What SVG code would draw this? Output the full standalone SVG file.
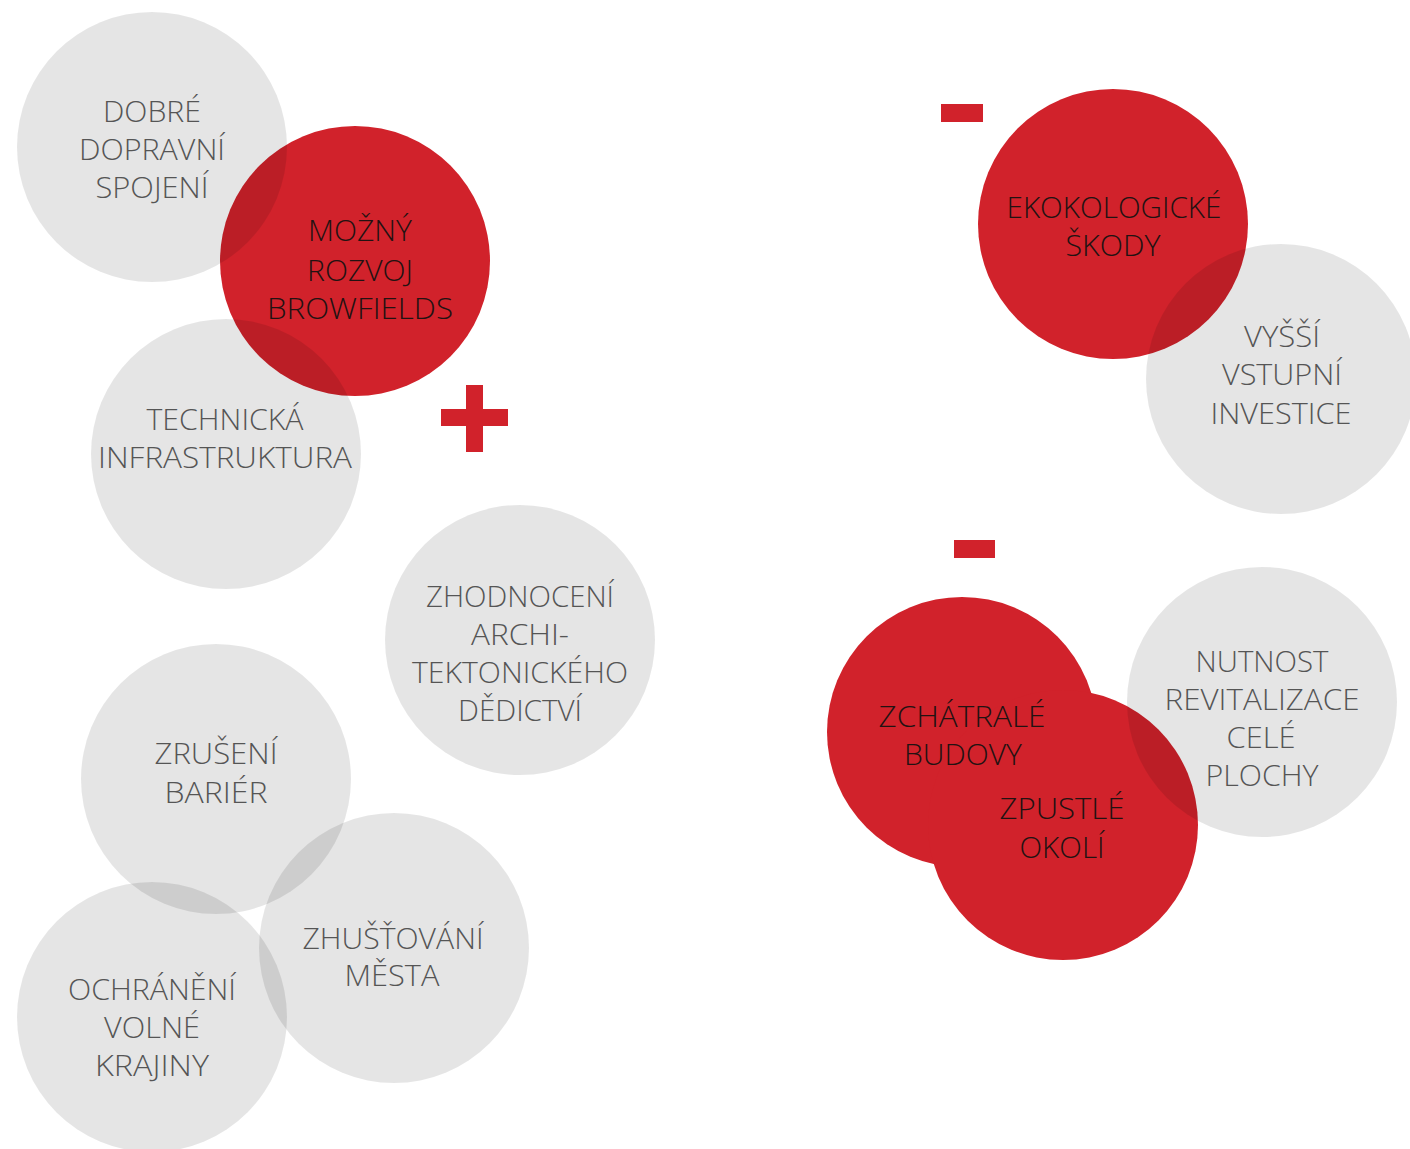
<svg xmlns="http://www.w3.org/2000/svg" width="1410" height="1149" viewBox="0 0 1410 1149">
<style>
.bg{fill:#ffffff}
.red{fill:#d1222b}
.gray{fill:#000000;fill-opacity:0.1}
text{font-family:"Open Sans","Liberation Sans",sans-serif;font-weight:300;font-size:30px;text-anchor:middle}
.tg{fill:#555555}
.tr{fill:#221212}
.sign{fill:#d1222b}
</style>
<rect class="bg" x="0" y="0" width="1410" height="1149"/>
<g id="connectors"></g>
<g id="node-mozny">
<circle class="red" cx="355" cy="261" r="135"/>
<text class="tr" x="360" y="241" textLength="104" lengthAdjust="spacingAndGlyphs">MOŽNÝ</text>
<text class="tr" x="360" y="281" textLength="106" lengthAdjust="spacingAndGlyphs">ROZVOJ</text>
<text class="tr" x="360" y="319" textLength="186" lengthAdjust="spacingAndGlyphs">BROWFIELDS</text>
</g>
<g id="node-ekologicke">
<circle class="red" cx="1113" cy="224" r="135"/>
<text class="tr" x="1114" y="218" textLength="215" lengthAdjust="spacingAndGlyphs">EKOKOLOGICKÉ</text>
<text class="tr" x="1113" y="256" textLength="95" lengthAdjust="spacingAndGlyphs">ŠKODY</text>
</g>
<g id="node-zchatrale">
<circle class="red" cx="962" cy="732" r="135"/>
</g>
<g id="node-zpustle">
<circle class="red" cx="1063" cy="825" r="135"/>
<text class="tr" x="1062" y="819" textLength="125" lengthAdjust="spacingAndGlyphs">ZPUSTLÉ</text>
<text class="tr" x="1062" y="858" textLength="85" lengthAdjust="spacingAndGlyphs">OKOLÍ</text>
</g>
<g id="node-zchatrale-label">
<text class="tr" x="962" y="727" textLength="167" lengthAdjust="spacingAndGlyphs">ZCHÁTRALÉ</text>
<text class="tr" x="963" y="765" textLength="118" lengthAdjust="spacingAndGlyphs">BUDOVY</text>
</g>
<g id="node-dobre">
<circle class="gray" cx="152" cy="147" r="135"/>
<text class="tg" x="152" y="122" textLength="98" lengthAdjust="spacingAndGlyphs">DOBRÉ</text>
<text class="tg" x="152" y="160" textLength="146" lengthAdjust="spacingAndGlyphs">DOPRAVNÍ</text>
<text class="tg" x="152" y="198" textLength="113" lengthAdjust="spacingAndGlyphs">SPOJENÍ</text>
</g>
<g id="node-technicka">
<circle class="gray" cx="226" cy="454" r="135"/>
<text class="tg" x="225" y="430" textLength="157" lengthAdjust="spacingAndGlyphs">TECHNICKÁ</text>
<text class="tg" x="225" y="468" textLength="254" lengthAdjust="spacingAndGlyphs">INFRASTRUKTURA</text>
</g>
<g id="node-zhodnoceni">
<circle class="gray" cx="520" cy="640" r="135"/>
<text class="tg" x="520" y="607" textLength="188" lengthAdjust="spacingAndGlyphs">ZHODNOCENÍ</text>
<text class="tg" x="520" y="645" textLength="98" lengthAdjust="spacingAndGlyphs">ARCHI-</text>
<text class="tg" x="520" y="683" textLength="216" lengthAdjust="spacingAndGlyphs">TEKTONICKÉHO</text>
<text class="tg" x="520" y="721" textLength="124" lengthAdjust="spacingAndGlyphs">DĚDICTVÍ</text>
</g>
<g id="node-zruseni">
<circle class="gray" cx="216" cy="779" r="135"/>
<text class="tg" x="216" y="764" textLength="123" lengthAdjust="spacingAndGlyphs">ZRUŠENÍ</text>
<text class="tg" x="216" y="803" textLength="103" lengthAdjust="spacingAndGlyphs">BARIÉR</text>
</g>
<g id="node-zhustovani">
<circle class="gray" cx="394" cy="948" r="135"/>
<text class="tg" x="393" y="949" textLength="181" lengthAdjust="spacingAndGlyphs">ZHUŠŤOVÁNÍ</text>
<text class="tg" x="392" y="986" textLength="95" lengthAdjust="spacingAndGlyphs">MĚSTA</text>
</g>
<g id="node-ochraneni">
<circle class="gray" cx="152" cy="1017" r="135"/>
<text class="tg" x="152" y="1000" textLength="168" lengthAdjust="spacingAndGlyphs">OCHRÁNĚNÍ</text>
<text class="tg" x="152" y="1038" textLength="96" lengthAdjust="spacingAndGlyphs">VOLNÉ</text>
<text class="tg" x="152" y="1076" textLength="114" lengthAdjust="spacingAndGlyphs">KRAJINY</text>
</g>
<g id="node-vyssi">
<circle class="gray" cx="1281" cy="379" r="135"/>
<text class="tg" x="1282" y="347" textLength="76" lengthAdjust="spacingAndGlyphs">VYŠŠÍ</text>
<text class="tg" x="1282" y="385" textLength="120" lengthAdjust="spacingAndGlyphs">VSTUPNÍ</text>
<text class="tg" x="1281" y="424" textLength="141" lengthAdjust="spacingAndGlyphs">INVESTICE</text>
</g>
<g id="node-nutnost">
<circle class="gray" cx="1262" cy="702" r="135"/>
<text class="tg" x="1262" y="672" textLength="133" lengthAdjust="spacingAndGlyphs">NUTNOST</text>
<text class="tg" x="1262" y="710" textLength="195" lengthAdjust="spacingAndGlyphs">REVITALIZACE</text>
<text class="tg" x="1261" y="748" textLength="69" lengthAdjust="spacingAndGlyphs">CELÉ</text>
<text class="tg" x="1262" y="786" textLength="113" lengthAdjust="spacingAndGlyphs">PLOCHY</text>
</g>
<g id="signs">
<rect class="sign" x="466" y="385" width="17" height="67"/>
<rect class="sign" x="441" y="409" width="67" height="17"/>
<rect class="sign" x="941" y="104" width="42" height="18"/>
<rect class="sign" x="954" y="540" width="41" height="18"/>
</g>
</svg>
